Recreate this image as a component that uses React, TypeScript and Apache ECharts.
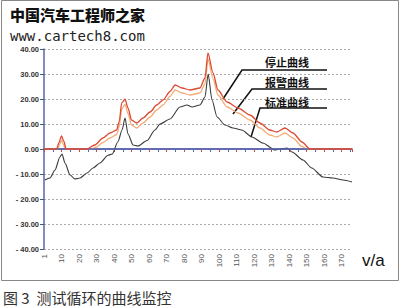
import React, { useEffect, useRef } from "react";
import * as echarts from "echarts";

const xTicks = { min: 0, max: 176, step: 10 };
const yTicks = { min: -40, max: 40, step: 10 };

const stopCurve: [number, number][] = [
  [0, 0], [7.2, 0], [8.5, 2.5], [10, 5.2], [11.4, 3], [12.6, 0], [24.4, 0], [29, 1.6], [33.7, 4.4],
  [37.7, 6.4], [41.5, 7.6], [43, 11], [44.4, 18.4], [46.3, 19.9], [48, 16.4], [50, 11.6], [53, 10.4],
  [56.6, 12.4], [60.6, 14.8], [64.4, 17.6], [68, 19.6], [72, 23], [74.9, 25.6], [78.9, 24.4],
  [83.4, 23.6], [89.1, 24.4], [92, 28.4], [93.7, 38.4], [96.6, 30.4], [99.4, 23.6], [104.6, 18.8],
  [110.9, 16.4], [117.7, 13.6], [123.4, 10.4], [129, 7.6], [133, 6.8], [137.7, 8.4], [142.3, 6.4],
  [147.4, 2.8], [152, 0], [176, 0],
];

const alarmCurve: [number, number][] = [
  [0, 0], [7.8, 0], [9, 2], [10, 3.4], [11, 2], [12.2, 0], [27, 0], [30, 0.8], [33.7, 2.6],
  [37.7, 4.4], [41.5, 5.8], [43, 9], [44.4, 16], [46.3, 17.8], [48, 14.2], [50, 9.6], [53, 8.4],
  [56.6, 10.4], [60.6, 12.8], [64.4, 15.6], [68, 17.6], [72, 21], [74.9, 23.6], [78.9, 22.4],
  [83.4, 21.6], [89.1, 22.4], [92, 26], [93.7, 36], [96.6, 28], [99.4, 21.6], [104.6, 16.8],
  [110.9, 14.4], [117.7, 11.6], [123.4, 8.4], [129, 5.6], [133, 4.8], [137.7, 6.4], [142.3, 4.4],
  [147.4, 1], [150, 0], [176, 0],
];

const standardCurve: [number, number][] = [
  [0.5, -12.4], [3.4, -11.6], [6.3, -8.4], [9.1, -3.2], [10.3, -2], [12, -5.6], [14.9, -10.4],
  [17.7, -12], [20.6, -11.6], [24.6, -9.6], [28, -7.6], [32, -5.6], [36.6, -2.5], [39, -2],
  [42.3, 3], [44.6, 7.6], [46.3, 12.4], [48, 6], [50.9, 1.6], [53.7, 1.2], [58.9, 3.4], [63.4, 7.6],
  [66.3, 10], [72, 12], [77.7, 16.8], [81.7, 17.6], [84.6, 16.8], [89.1, 17.6], [92, 20.8],
  [93.8, 30], [96, 19.6], [98.9, 12.8], [103.4, 9.6], [108, 8.4], [113, 7.6], [118.9, 4.8],
  [125, 2.4], [132, -0.4], [134.9, 0], [138.9, 0.4], [141.7, -1.2], [148, -4.4], [153, -7.6],
  [159.4, -11.2], [165, -11.6], [170.9, -12.4], [176, -13.2],
];

const legendLabels = ["停止曲线", "报警曲线", "标准曲线"];
const headerTitle = "中国汽车工程师之家";
const headerUrl = "www.cartech8.com";
const caption = "图 3  测试循环的曲线监控";
const axisUnit = "v/a";

const BLUE = "#5a66ac";

export default function App() {
  const ref = useRef<HTMLDivElement>(null);
  useEffect(() => {
    document.body.style.margin = "0";
    const chart = echarts.init(ref.current!, null, { renderer: "svg" });
    const calloutStyle = { stroke: "#111", lineWidth: 1.5, fill: "none" };
    const textStyle = (text: string, x: number, y: number) => ({
      type: "text",
      x,
      y,
      style: {
        text,
        fill: "#111",
        font: "bold 11px 'Noto Sans CJK SC'",
        textVerticalAlign: "middle",
      },
    });
    chart.setOption({
      animation: false,
      backgroundColor: "#fff",
      grid: { left: 44, top: 49, width: 308, height: 200 },
      xAxis: {
        type: "value",
        min: xTicks.min,
        max: xTicks.max,
        interval: xTicks.step,
        axisLine: { show: true, lineStyle: { color: BLUE, width: 1.5 } },
        axisTick: { show: true, length: 3, lineStyle: { color: "#c84a4a" } },
        minorTick: { show: true, splitNumber: 2, length: 3, lineStyle: { color: BLUE } },
        splitLine: { show: false },
        axisLabel: {
          rotate: 90,
          fontSize: 8,
          color: "#555",
          margin: 5,
          showMaxLabel: false,
          fontFamily: "Liberation Sans",
          formatter: (v: number) => (v === 0 ? "1" : String(v)),
        },
      },
      yAxis: {
        type: "value",
        min: yTicks.min,
        max: yTicks.max,
        interval: yTicks.step,
        axisLine: { show: true, lineStyle: { color: BLUE, width: 1.5 } },
        axisTick: { show: true, length: 4, lineStyle: { color: "#555" } },
        splitLine: { show: true, lineStyle: { color: "#aaa", type: [2, 2] } },
        axisLabel: {
          fontSize: 7.5,
          fontWeight: "bold",
          color: "#333",
          margin: 5,
          fontFamily: "Liberation Sans",
          formatter: (v: number) => (v < 0 ? "- " + (-v).toFixed(2) : v.toFixed(2)),
        },
      },
      series: [
        {
          type: "line",
          data: [],
          z: 1,
          silent: true,
          markLine: {
            silent: true,
            symbol: "none",
            label: { show: false },
            lineStyle: { color: BLUE, width: 1.5, type: "solid" },
            data: [{ yAxis: 0 }],
          },
        },
        {
          type: "line",
          name: legendLabels[2],
          data: standardCurve,
          symbol: "none",
          smooth: 0.25,
          smoothMonotone: "x",
          z: 3,
          lineStyle: { color: "#3a3a3a", width: 1.1 },
        },
        {
          type: "line",
          name: legendLabels[1],
          data: alarmCurve,
          symbol: "none",
          smooth: 0.25,
          smoothMonotone: "x",
          z: 4,
          lineStyle: { color: "#f4ad78", width: 1.3 },
        },
        {
          type: "line",
          name: legendLabels[0],
          data: stopCurve,
          symbol: "none",
          smooth: 0.25,
          smoothMonotone: "x",
          z: 5,
          lineStyle: { color: "#dc4a34", width: 1.3 },
        },
      ],
      graphic: [
        {
          type: "rect",
          shape: { x: 1.5, y: 0.5, width: 397, height: 280 },
          style: { stroke: "#888", fill: "none", lineWidth: 1 },
          silent: true,
        },
        {
          type: "polyline",
          shape: { points: [[223, 99], [242, 70], [327, 70]] },
          style: calloutStyle,
        },
        {
          type: "polyline",
          shape: { points: [[233, 114], [252, 89], [327, 89]] },
          style: calloutStyle,
        },
        {
          type: "polyline",
          shape: { points: [[251, 137], [260, 108], [327, 108]] },
          style: calloutStyle,
        },
        textStyle(legendLabels[0], 265, 62),
        textStyle(legendLabels[1], 265, 82),
        textStyle(legendLabels[2], 265, 102),
        {
          type: "text",
          x: 10,
          y: 14,
          style: {
            text: headerTitle,
            fill: "#111",
            font: "900 15px 'Noto Sans CJK SC'",
            textVerticalAlign: "middle",
          },
        },
        {
          type: "text",
          x: 10,
          y: 36,
          style: {
            text: headerUrl,
            fill: "#222",
            font: "14px 'DejaVu Sans Mono'",
            textVerticalAlign: "middle",
          },
        },
        {
          type: "text",
          x: 362,
          y: 260,
          style: {
            text: axisUnit,
            fill: "#111",
            font: "17px 'Liberation Sans'",
            textVerticalAlign: "middle",
          },
        },
        {
          type: "text",
          x: 3,
          y: 297,
          style: {
            text: caption,
            fill: "#333",
            font: "15px 'Noto Sans CJK SC'",
            textVerticalAlign: "middle",
          },
        },
      ],
    });
    return () => chart.dispose();
  }, []);
  return <div ref={ref} style={{ width: 400, height: 308 }} />;
}
